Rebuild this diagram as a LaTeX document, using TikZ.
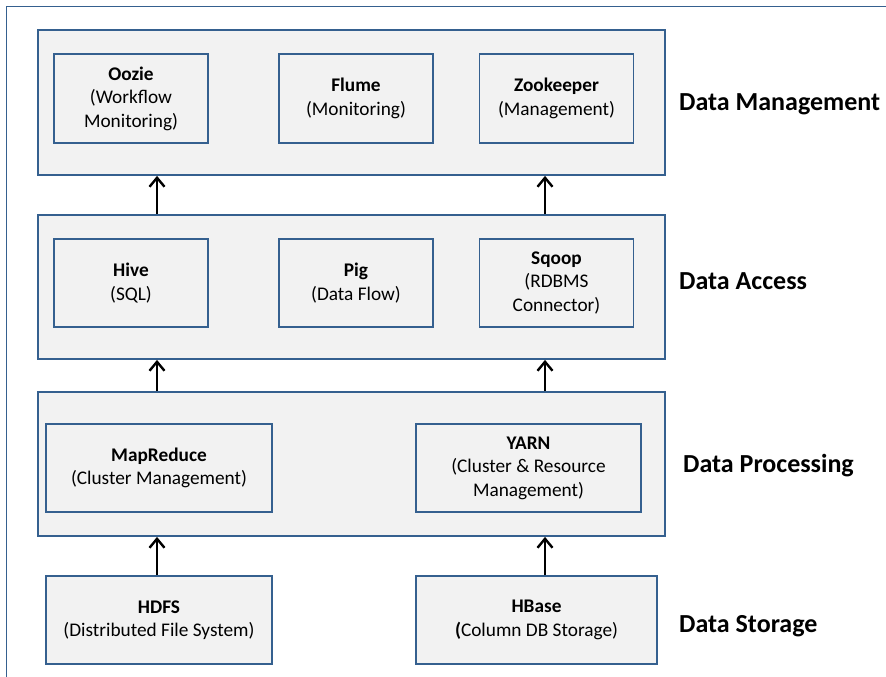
\documentclass[tikz,border=0pt]{standalone}
\usepackage{fontspec}
\setmainfont{Carlito}
\usetikzlibrary{arrows.meta}
\definecolor{edge}{HTML}{35608F}
\definecolor{boxfill}{HTML}{F2F2F2}
\begin{document}
\begin{tikzpicture}[x=1pt,y=-1pt,
  layer/.style={draw=edge, line width=1.8pt, fill=boxfill, rectangle, inner sep=0pt},
  comp/.style={draw=edge, line width=1.8pt, fill=boxfill, rectangle, inner sep=0pt, align=center,
    font=\fontsize{19.3}{23.5}\selectfont, execute at begin node={\rule{0pt}{19pt}}},
  lbl/.style={anchor=west, font=\fontsize{26}{30}\selectfont\bfseries, inner sep=0pt},
  arr/.style={draw=black, line width=2.6pt, -{Straight Barb[length=9pt,width=15pt,line width=2.4pt]}}]
\useasboundingbox (0,0) rectangle (886,677);
\draw[edge, line width=1.5pt] (6.5,700) -- (6.5,6.5) -- (900,6.5);
% layers
\node[layer, minimum width=627, minimum height=145] (L1) at (351.5,102.5) {};
\node[layer, minimum width=627, minimum height=144] (L2) at (351.5,287) {};
\node[layer, minimum width=627, minimum height=144] (L3) at (351.5,464) {};
% data management
\node[comp, minimum width=154, minimum height=89] (oozie) at (131,98.5) {\textbf{Oozie}\\(Workflow\\Monitoring)};
\node[comp, minimum width=154, minimum height=89] (flume) at (356,98.5) {\textbf{Flume}\\(Monitoring)};
\node[comp, minimum width=154, minimum height=89] (zoo) at (556.5,98.5) {\textbf{Zookeeper}\\(Management)};
% data access
\node[comp, minimum width=154, minimum height=88] (hive) at (131,283) {\textbf{Hive}\\(SQL)};
\node[comp, minimum width=154, minimum height=88] (pig) at (356,283) {\textbf{Pig}\\(Data Flow)};
\node[comp, minimum width=154, minimum height=88] (sqoop) at (556.5,283) {\textbf{Sqoop}\\(RDBMS\\Connector)};
% processing
\node[comp, minimum width=226, minimum height=88] (mr) at (159,468) {\textbf{MapReduce}\\(Cluster Management)};
\node[comp, minimum width=225, minimum height=88] (yarn) at (528.5,468) {\textbf{YARN}\\(Cluster \& Resource\\Management)};
% storage
\node[comp, minimum width=226, minimum height=88] (hdfs) at (159,620) {\textbf{HDFS}\\(Distributed File System)};
\node[comp, minimum width=241, minimum height=88] (hbase) at (536.5,620) {\textbf{HBase}\\\textbf{(}Column DB Storage)};
% labels
\node[lbl] (t1) at (679,104) {Data Management};
\node[lbl] (t2) at (679,281) {Data Access};
\node[lbl] (t3) at (683,466) {Data Processing};
\node[lbl] (t4) at (679,626) {Data Storage};
% arrows
\coordinate (xa) at (157,0);
\coordinate (xb) at (545,0);
\draw[arr] (L2.north -| xa) -- (L1.south -| xa);
\draw[arr] (L2.north -| xb) -- (L1.south -| xb);
\draw[arr] (L3.north -| xa) -- (L2.south -| xa);
\draw[arr] (L3.north -| xb) -- (L2.south -| xb);
\draw[arr] (hdfs.north -| xa) -- (L3.south -| xa);
\draw[arr] (hbase.north -| xb) -- (L3.south -| xb);
\end{tikzpicture}
\end{document}
